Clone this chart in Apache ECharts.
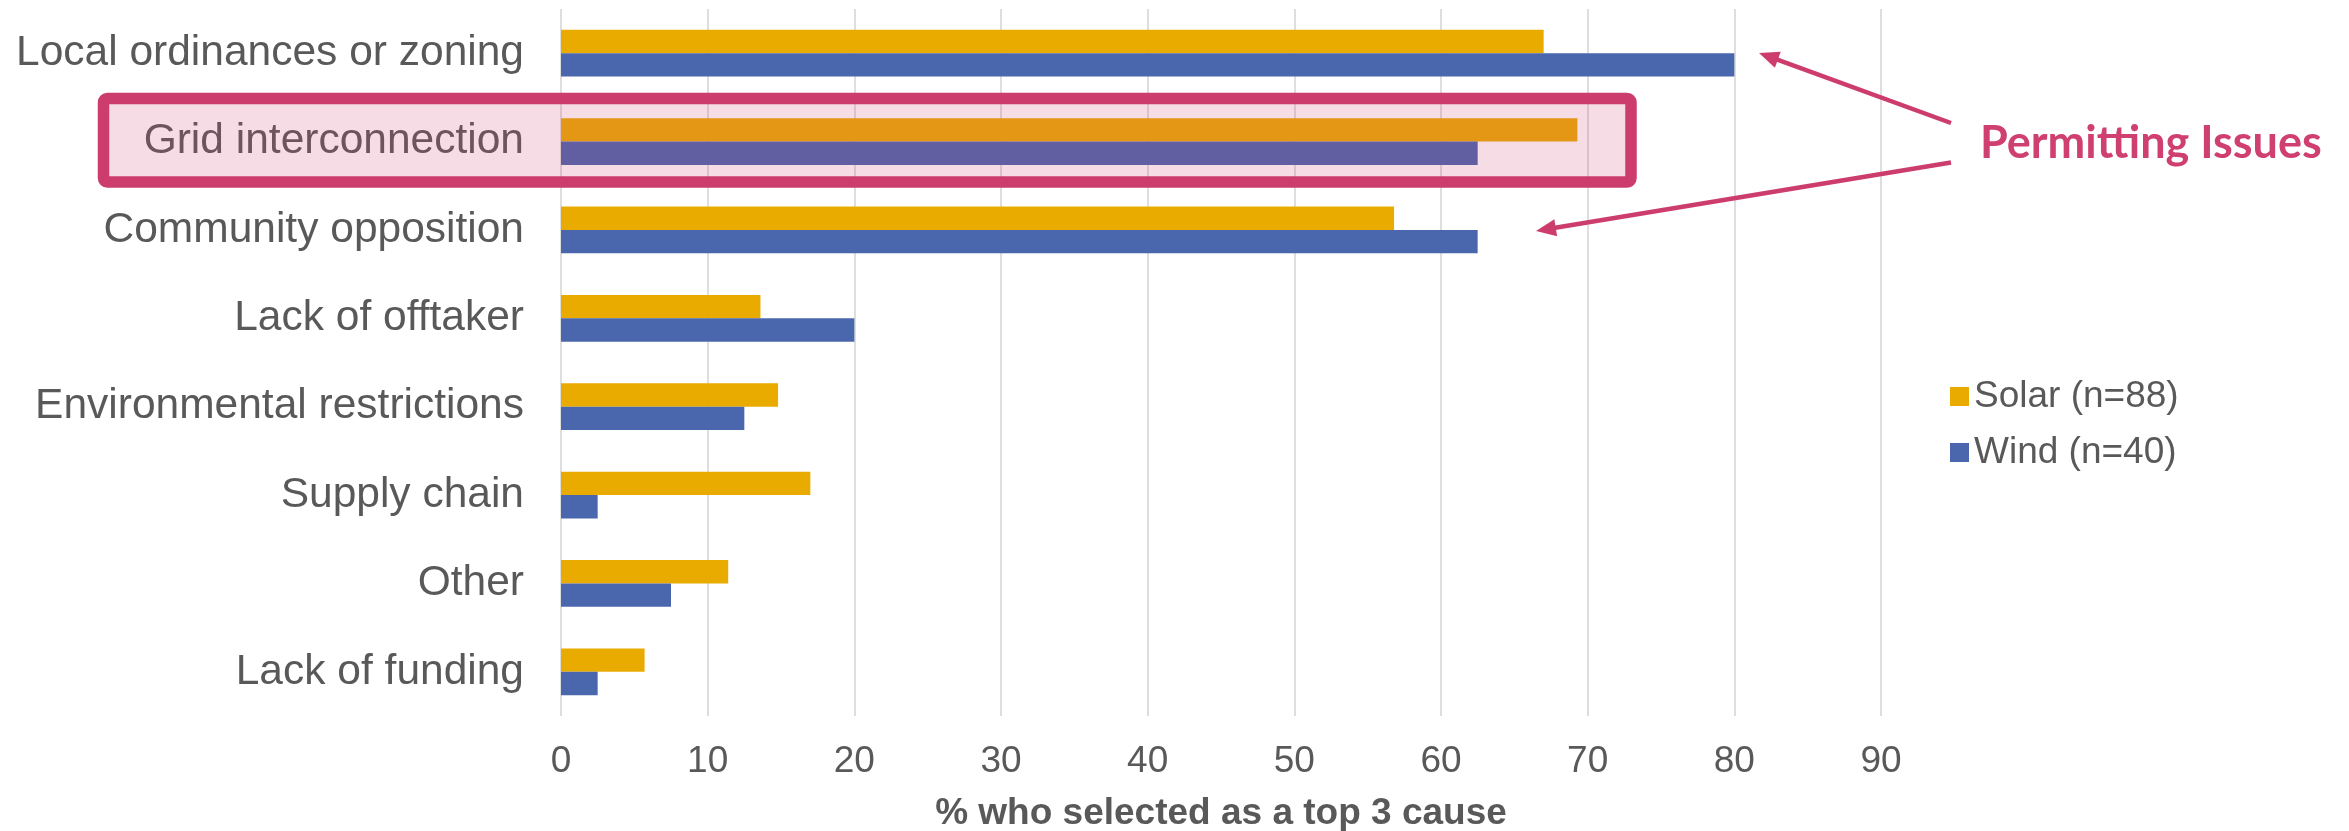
<!DOCTYPE html>
<html>
<head>
<meta charset="utf-8">
<script src="https://cdn.jsdelivr.net/npm/echarts@6/dist/echarts.min.js"></script>
<style>
  html, body { margin: 0; padding: 0; background: #ffffff; }
  #chart { width: 2349px; height: 831px; }
</style>
</head>
<body>
<div id="chart"></div>
<script>
// Causes of project delay, share of respondents naming each as a top-3 cause
const categories = [
  'Local ordinances or zoning',
  'Grid interconnection',
  'Community opposition',
  'Lack of offtaker',
  'Environmental restrictions',
  'Supply chain',
  'Other',
  'Lack of funding'
];
const solarValues = [67.0, 69.3, 56.8, 13.6, 14.8, 17.0, 11.4, 5.7];
const windValues  = [80.0, 62.5, 62.5, 20.0, 12.5, 2.5, 7.5, 2.5];
const seriesNames = ['Solar (n=88)', 'Wind (n=40)'];
const xTicks = { min: 0, max: 90, interval: 10 };
const axisTitle = '% who selected as a top 3 cause';
const calloutText = 'Permitting Issues';

const TEXT = '#595959';
const PINK = '#CC3D6E';
const FONT = '"Liberation Sans", Arial, sans-serif';

const chart = echarts.init(document.getElementById('chart'), null, { renderer: 'canvas' });

// Straight arrow: shaft plus a filled triangular head at (x2, y2)
function arrow(x1, y1, x2, y2) {
  const dx = x2 - x1, dy = y2 - y1;
  const len = Math.hypot(dx, dy);
  const ux = dx / len, uy = dy / len;
  const headLen = 20, half = 8.5;
  const bx = x2 - ux * headLen, by = y2 - uy * headLen;
  const nx = -uy, ny = ux;
  return [
    {
      type: 'line', z: 100,
      shape: { x1: x1, y1: y1, x2: bx + ux * 2, y2: by + uy * 2 },
      style: { stroke: PINK, lineWidth: 4.5, lineCap: 'butt' }
    },
    {
      type: 'polygon', z: 100,
      shape: { points: [[x2, y2], [bx + nx * half, by + ny * half], [bx - nx * half, by - ny * half]] },
      style: { fill: PINK }
    }
  ];
}

const option = {
  backgroundColor: '#ffffff',
  animation: false,
  grid: { left: 561, right: 468, top: 9, bottom: 115, containLabel: false, outerBoundsMode: 'none' },
  legend: {
    orient: 'vertical',
    left: 1945,
    top: 373,
    itemWidth: 19,
    itemHeight: 19,
    itemGap: 19,
    icon: 'rect',
    textStyle: { color: TEXT, fontSize: 37, fontFamily: FONT, padding: [0, 0, 0, 0] },
    data: seriesNames
  },
  xAxis: {
    type: 'value',
    min: xTicks.min,
    max: xTicks.max,
    interval: xTicks.interval,
    axisLine: { show: false },
    axisTick: { show: false },
    axisLabel: { color: TEXT, fontSize: 37, fontFamily: FONT, margin: 27 },
    splitLine: { show: true, lineStyle: { color: '#DEDEDE', width: 2 } },
    name: axisTitle,
    nameLocation: 'middle',
    nameGap: 79,
    nameTextStyle: { color: TEXT, fontSize: 37, fontWeight: 'bold', fontFamily: FONT }
  },
  yAxis: {
    type: 'category',
    data: categories,
    inverse: true,
    axisLine: { show: false },
    axisTick: { show: false },
    axisLabel: { color: TEXT, fontSize: 42.5, fontFamily: FONT, margin: 37 }
  },
  series: [
    {
      name: seriesNames[0],
      type: 'bar',
      data: solarValues,
      itemStyle: { color: '#EAAB00' },
      barGap: '0%',
      barCategoryGap: '47%'
    },
    {
      name: seriesNames[1],
      type: 'bar',
      data: windValues,
      itemStyle: { color: '#4A67AD' },
      barGap: '0%',
      barCategoryGap: '47%'
    }
  ],
  graphic: [
    // highlight box around the grid interconnection row
    {
      type: 'rect', z: 90,
      shape: { x: 103.5, y: 98.5, width: 1527.5, height: 83.5, r: 4 },
      style: { fill: 'rgba(204,62,110,0.18)', stroke: PINK, lineWidth: 11.5 }
    },
    {
      type: 'text', z: 100,
      left: 1980, top: 121,
      style: {
        text: calloutText,
        fill: '#CF3F70',
        font: 'bold 45px Lato, "Open Sans", sans-serif'
      }
    }
  ].concat(arrow(1951, 123, 1759, 53)).concat(arrow(1951, 162.5, 1536, 231))
};

chart.setOption(option);
</script>
</body>
</html>
